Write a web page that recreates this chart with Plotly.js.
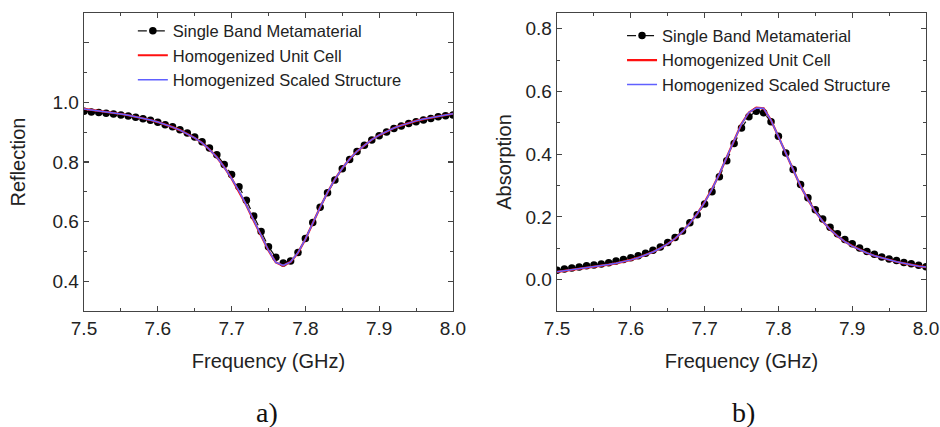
<!DOCTYPE html>
<html>
<head>
<meta charset="utf-8">
<script src="https://cdn.plot.ly/plotly-3.0.1.min.js"></script>
<style>html,body{margin:0;padding:0;background:#fff;}#chart{width:940px;height:427px;}</style>
</head>
<body>
<div id="chart"></div>
<script>
// Frequency grid (GHz)
const freq = [7.50,7.51,7.52,7.53,7.54,7.55,7.56,7.57,7.58,7.59,
  7.60,7.61,7.62,7.63,7.64,7.65,7.66,7.67,7.68,7.69,
  7.70,7.71,7.72,7.73,7.74,7.75,7.76,7.77,7.78,7.79,
  7.80,7.81,7.82,7.83,7.84,7.85,7.86,7.87,7.88,7.89,
  7.90,7.91,7.92,7.93,7.94,7.95,7.96,7.97,7.98,7.99,8.00];

// (a) Reflection
const reflSingleBand = [0.970,0.968,0.966,0.964,0.961,0.958,0.954,0.950,0.945,0.940,
  0.933,0.925,0.918,0.908,0.897,0.884,0.868,0.847,0.824,0.792,
  0.758,0.717,0.672,0.619,0.567,0.516,0.480,0.461,0.468,0.496,
  0.543,0.597,0.648,0.697,0.740,0.777,0.808,0.835,0.856,0.874,
  0.888,0.901,0.912,0.921,0.929,0.935,0.941,0.946,0.952,0.955,0.958];
const reflUnitCell = [0.978,0.975,0.972,0.969,0.965,0.961,0.957,0.952,0.947,0.941,
  0.934,0.926,0.917,0.907,0.895,0.881,0.864,0.842,0.816,0.783,
  0.745,0.702,0.655,0.603,0.552,0.503,0.463,0.452,0.465,0.495,
  0.541,0.596,0.648,0.698,0.742,0.779,0.810,0.836,0.857,0.875,
  0.890,0.903,0.914,0.923,0.931,0.938,0.944,0.949,0.954,0.958,0.962];
const reflScaled = [0.978,0.975,0.972,0.969,0.965,0.961,0.957,0.952,0.947,0.941,
  0.934,0.926,0.917,0.907,0.895,0.881,0.864,0.842,0.816,0.783,
  0.745,0.703,0.655,0.604,0.552,0.504,0.463,0.453,0.465,0.496,
  0.541,0.596,0.648,0.698,0.742,0.779,0.810,0.836,0.857,0.875,
  0.890,0.903,0.914,0.923,0.931,0.938,0.944,0.949,0.954,0.958,0.962];

// (b) Absorption
const absSingleBand = [0.030,0.034,0.037,0.040,0.044,0.047,0.050,0.054,0.059,0.064,
  0.070,0.076,0.084,0.094,0.104,0.118,0.134,0.155,0.181,0.207,
  0.241,0.280,0.328,0.379,0.434,0.483,0.519,0.537,0.532,0.503,
  0.457,0.404,0.351,0.303,0.261,0.223,0.193,0.167,0.146,0.128,
  0.114,0.101,0.090,0.081,0.072,0.066,0.061,0.055,0.051,0.046,0.041];
const absUnitCell = [0.025,0.028,0.031,0.034,0.037,0.040,0.044,0.048,0.052,0.057,
  0.063,0.070,0.078,0.088,0.100,0.114,0.131,0.153,0.180,0.210,
  0.247,0.289,0.337,0.390,0.444,0.497,0.533,0.548,0.546,0.508,
  0.456,0.402,0.348,0.298,0.255,0.217,0.186,0.160,0.139,0.121,
  0.107,0.095,0.085,0.076,0.069,0.062,0.057,0.052,0.047,0.043,0.040];
const absScaled = [0.025,0.028,0.031,0.034,0.037,0.040,0.044,0.048,0.052,0.057,
  0.063,0.070,0.078,0.088,0.100,0.114,0.131,0.153,0.180,0.210,
  0.246,0.288,0.337,0.390,0.443,0.496,0.533,0.547,0.546,0.508,
  0.456,0.402,0.348,0.298,0.255,0.217,0.186,0.160,0.139,0.121,
  0.107,0.095,0.085,0.076,0.069,0.062,0.057,0.052,0.047,0.043,0.040];

const names = ['Single Band Metamaterial','Homogenized Unit Cell','Homogenized Scaled Structure'];
const xTickVals = [7.5,7.6,7.7,7.8,7.9,8.0];
const xTickText = ['7.5','7.6','7.7','7.8','7.9','8.0'];
const y1TickVals = [0.4,0.6,0.8,1.0,1.2];
const y1TickText = ['0.4','0.6','0.8','1.0',''];
const y2TickVals = [0.0,0.2,0.4,0.6,0.8];
const y2TickText = ['0.0','0.2','0.4','0.6','0.8'];

function traces(ys, xa, ya, leg){
  return [
    {x:freq, y:ys[0], xaxis:xa, yaxis:ya, legend:leg, name:names[0], type:'scatter', mode:'lines+markers',
     line:{color:'#111', width:1.2, dash:'dash'}, marker:{color:'#000', size:7.5}},
    {x:freq, y:ys[1], xaxis:xa, yaxis:ya, legend:leg, name:names[1], type:'scatter', mode:'lines',
     line:{color:'#ff1010', width:2.2}},
    {x:freq, y:ys[2], xaxis:xa, yaxis:ya, legend:leg, name:names[2], type:'scatter', mode:'lines',
     line:{color:'#6060ff', width:1.5}}
  ];
}

const data = traces([reflSingleBand, reflUnitCell, reflScaled], 'x', 'y', 'legend')
  .concat(traces([absSingleBand, absUnitCell, absScaled], 'x2', 'y2', 'legend2'));

const tickFont = {family:'Liberation Sans, Arial, sans-serif', size:19, color:'#222'};
const titleFont = {family:'Liberation Sans, Arial, sans-serif', size:20, color:'#222'};
const axBase = {showline:true, linecolor:'#444', linewidth:1.3, mirror:'ticks', ticks:'inside',
  ticklen:5, tickwidth:1.2, tickcolor:'#444', showgrid:false, zeroline:false, tickfont:tickFont,
  automargin:false, fixedrange:true};

function xAxis(domain, anchor){
  return Object.assign({}, axBase, {domain:domain, anchor:anchor, range:[7.5,8.0],
    tickmode:'array', tickvals:xTickVals, ticktext:xTickText,
    minor:{ticks:'inside', ticklen:3, tickwidth:1, tickcolor:'#444', tickvals:[7.55,7.65,7.75,7.85,7.95]},
    title:{text:'Frequency (GHz)', font:titleFont, standoff:16}});
}
function yAxis(range, tv, tt, minorVals, title, anchor, standoff){
  return Object.assign({}, axBase, {domain:[0,1], anchor:anchor, range:range,
    tickmode:'array', tickvals:tv, ticktext:tt,
    minor:{ticks:'inside', ticklen:3, tickwidth:1, tickcolor:'#444', tickvals:minorVals},
    title:{text:title, font:titleFont, standoff:standoff}});
}

const legBase = {bgcolor:'rgba(0,0,0,0)', borderwidth:0, xanchor:'left', yanchor:'top',
  font:{family:'Liberation Sans, Arial, sans-serif', size:16.5, color:'#222'}, tracegroupgap:0};

const layout = {
  width:940, height:427,
  margin:{l:84, r:14, t:13, b:116},
  paper_bgcolor:'#fff', plot_bgcolor:'#fff',
  showlegend:true,
  xaxis: xAxis([0, 0.4382], 'y'),
  yaxis: yAxis([0.3,1.3], y1TickVals, y1TickText, [0.3,0.5,0.7,0.9,1.1], 'Reflection', 'x', 21),
  xaxis2: xAxis([0.5618, 1], 'y2'),
  yaxis2: yAxis([-0.1,0.85], y2TickVals, y2TickText, [-0.1,0.1,0.3,0.5,0.7], 'Absorption', 'x2', 8),
  legend: Object.assign({}, legBase, {x:0.058, y:0.998}),
  legend2: Object.assign({}, legBase, {x:0.639, y:0.982}),
  annotations:[
    {text:'a)', xref:'paper', yref:'paper', x:0.2173, y:-0.339, showarrow:false,
     xanchor:'center', yanchor:'middle', font:{family:'Liberation Serif, Times New Roman, serif', size:28, color:'#111'}},
    {text:'b)', xref:'paper', yref:'paper', x:0.7827, y:-0.339, showarrow:false,
     xanchor:'center', yanchor:'middle', font:{family:'Liberation Serif, Times New Roman, serif', size:28, color:'#111'}}
  ]
};

Plotly.newPlot('chart', data, layout, {displayModeBar:false, staticPlot:true});
</script>
</body>
</html>
